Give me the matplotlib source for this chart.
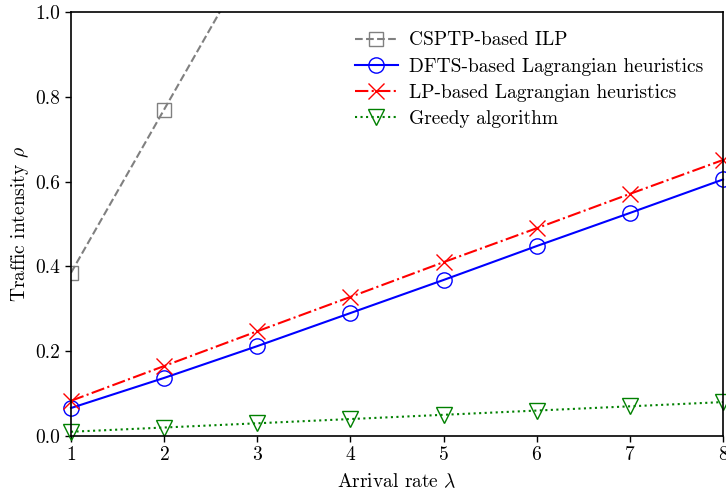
"""Traffic intensity vs arrival rate for the four algorithms."""

import matplotlib
matplotlib.use("Agg")
import matplotlib.pyplot as plt

arrival_rate = [1, 2, 3, 4, 5, 6, 7, 8]
csptp_ilp = [0.385, 0.77, 1.155, 1.54, 1.925, 2.31, 2.695, 3.08]
dfts_lagrangian = [0.066, 0.137, 0.212, 0.290, 0.368, 0.448, 0.526, 0.605]
lp_lagrangian = [0.083, 0.165, 0.247, 0.328, 0.410, 0.490, 0.571, 0.651]
greedy = [0.01, 0.02, 0.03, 0.04, 0.05, 0.06, 0.07, 0.08]

labels = [
    "CSPTP-based ILP",
    "DFTS-based Lagrangian heuristics",
    "LP-based Lagrangian heuristics",
    "Greedy algorithm",
]

plt.rcParams["font.family"] = "serif"
plt.rcParams["font.serif"] = ["cmr10"]
plt.rcParams["mathtext.fontset"] = "cm"
plt.rcParams["axes.formatter.use_mathtext"] = True

fig = plt.figure(figsize=(7.26, 4.92), dpi=100)
ax = fig.add_axes([71 / 726, 56 / 492, 652 / 726, 424 / 492])

ax.plot(arrival_rate, csptp_ilp, color="gray", linestyle="--", marker="s",
        markersize=10, markerfacecolor="none", markeredgecolor="gray",
        markeredgewidth=1.0, linewidth=1.5, label=labels[0])
ax.plot(arrival_rate, dfts_lagrangian, color="blue", linestyle="-", marker="o",
        markersize=11, markerfacecolor="none", markeredgewidth=1.0,
        linewidth=1.5, label=labels[1], clip_on=False)
ax.plot(arrival_rate, lp_lagrangian, color="red", linestyle="-.", marker="x",
        markersize=11, markeredgewidth=1.0, linewidth=1.5, label=labels[2],
        clip_on=False)
ax.plot(arrival_rate, greedy, color="green", linestyle=":", marker="v",
        markersize=11, markerfacecolor="none", markeredgewidth=1.0,
        linewidth=1.5, label=labels[3], clip_on=False)

ax.set_xlim(1, 8)
ax.set_ylim(0, 1.0)
ax.set_xticks(arrival_rate)
ax.set_yticks([0.0, 0.2, 0.4, 0.6, 0.8, 1.0])
ax.set_yticklabels(["0.0", "0.2", "0.4", "0.6", "0.8", "1.0"])
ax.tick_params(labelsize=14, direction="out", length=4, width=1)
for spine in ax.spines.values():
    spine.set_linewidth(1.2)

ax.set_xlabel(r"Arrival rate $\lambda$", fontsize=14, labelpad=6)
ax.set_ylabel(r"Traffic intensity $\rho$", fontsize=14, labelpad=3)

ax.legend(loc="upper right", frameon=False, fontsize=14, handlelength=2.2,
          borderaxespad=0.6, labelspacing=0.42, handletextpad=0.6)

fig.savefig("out.png", dpi=100)
